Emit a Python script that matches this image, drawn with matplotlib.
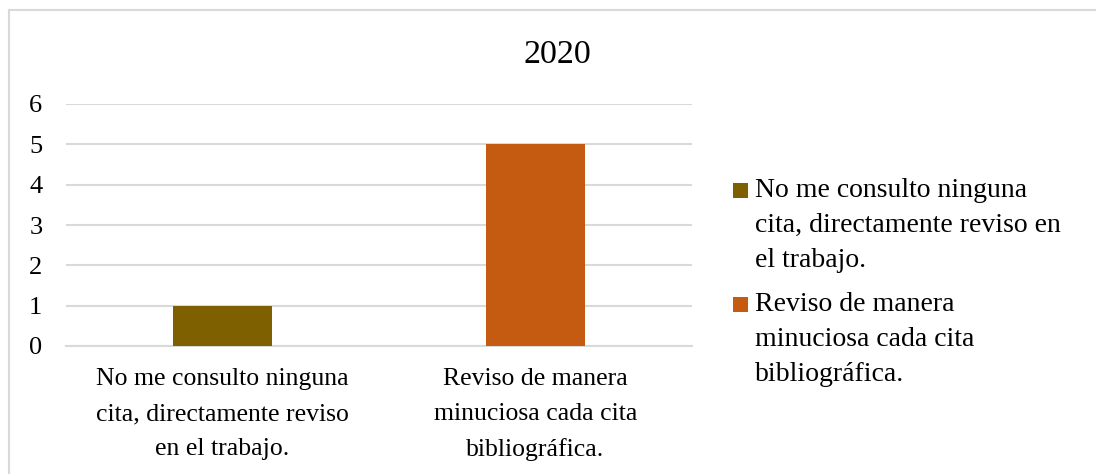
import matplotlib
matplotlib.use("Agg")
import matplotlib.pyplot as plt
from matplotlib.patches import Rectangle
from matplotlib.lines import Line2D

plt.rcParams['font.family'] = ['Liberation Serif', 'DejaVu Serif']

title = "2020"
categories = ["No me consulto ninguna\ncita, directamente reviso\nen el trabajo.",
              "Reviso de manera\nminuciosa cada cita\nbibliográfica."]
legend_labels = ["No me consulto ninguna\ncita, directamente reviso en\nel trabajo.",
                 "Reviso de manera\nminuciosa cada cita\nbibliográfica."]
values = [1, 5]
colors = ["#7F6000", "#C55A11"]
yticks = [0, 1, 2, 3, 4, 5, 6]

W, H = 1096, 474
fig = plt.figure(figsize=(W / 100, H / 100), dpi=100)

# outer chart frame (only top and left edges visible)
fig.add_artist(Line2D([9 / W, 1], [1 - 10 / H, 1 - 10 / H], transform=fig.transFigure,
                      color="#D9D9D9", linewidth=1.5))
fig.add_artist(Line2D([9 / W, 9 / W], [0, 1 - 10 / H], transform=fig.transFigure,
                      color="#D9D9D9", linewidth=1.5))

ax = fig.add_axes([66 / W, 1 - 346 / H, (692 - 66) / W, (346 - 104) / H])
x = list(range(len(values)))
for i, (v, c) in enumerate(zip(values, colors)):
    ax.bar(x[i], v, width=0.316, color=c, zorder=3)

ax.set_xlim(-0.5, len(values) - 0.5)
ax.set_ylim(0, 6)
ax.set_yticks(yticks)
ax.set_yticklabels([str(t) for t in yticks], fontsize=19)
ax.set_xticks(x)
ax.set_xticklabels(categories, linespacing=1.75, fontsize=18.5)
ax.tick_params(axis='both', length=0, colors='black')
ax.tick_params(axis='y', pad=17)
ax.tick_params(axis='x', pad=16)
ax.grid(axis='y', color='#D9D9D9', linewidth=1.5, zorder=0)
for s in ['top', 'right', 'left']:
    ax.spines[s].set_visible(False)
ax.spines['bottom'].set_color('#D9D9D9')
ax.spines['bottom'].set_linewidth(1.5)

fig.text(557 / W, 1 - 63 / H, title, ha='center', va='baseline', fontsize=24.5)

# legend (handle aligned with first line of each entry)
entry_baselines = [198, 312]
for lab, c, yb in zip(legend_labels, colors, entry_baselines):
    fig.patches.append(Rectangle((733 / W, 1 - yb / H), 15 / W, 15 / H,
                                 transform=fig.transFigure, facecolor=c, edgecolor='none'))
    fig.text(755 / W, 1 - (yb - 20) / H, lab, ha='left', va='top', fontsize=20,
             linespacing=1.52)

fig.savefig("out.png", dpi=100)
